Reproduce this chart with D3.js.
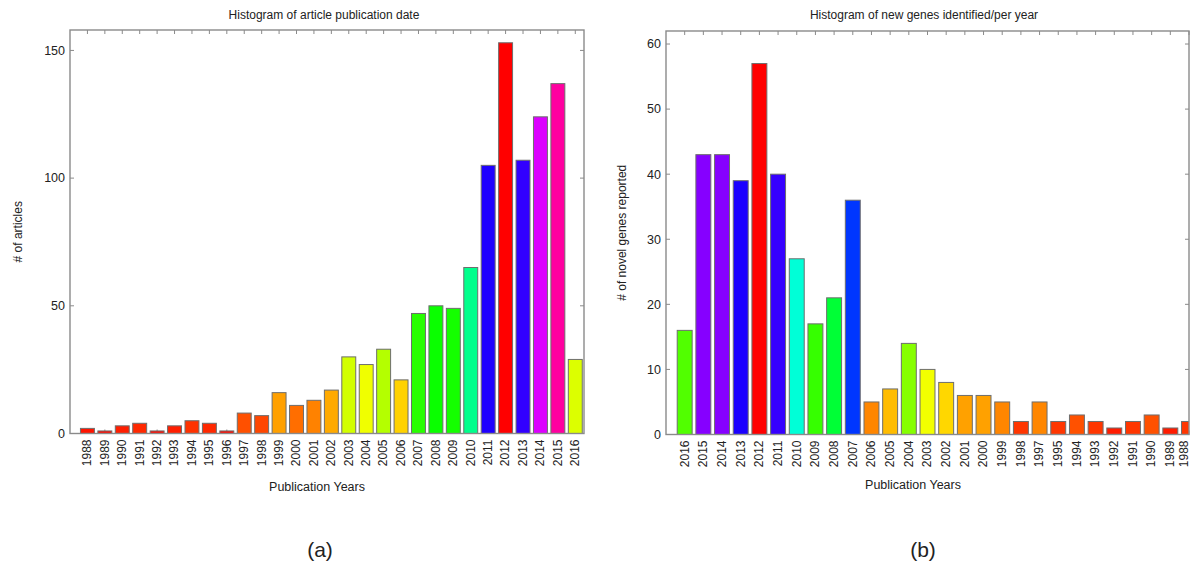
<!DOCTYPE html>
<html><head><meta charset="utf-8">
<script src="https://cdn.jsdelivr.net/npm/d3@7"></script>
<style>body{margin:0;background:#fff}svg{display:block;font-family:"Liberation Sans",Arial,sans-serif}</style>
</head><body>
<svg id="c" width="1193" height="567"></svg>
<script>
// Panel (a)
const yearsA = ["1988","1989","1990","1991","1992","1993","1994","1995","1996","1997","1998","1999","2000","2001","2002","2003","2004","2005","2006","2007","2008","2009","2010","2011","2012","2013","2014","2015","2016"];
const valuesA = [2,1,3,4,1,3,5,4,1,8,7,16,11,13,17,30,27,33,21,47,50,49,65,105,153,107,124,137,29];
const yTicksA = [0,50,100,150];
// Panel (b)
const yearsB = ["2016","2015","2014","2013","2012","2011","2010","2009","2008","2007","2006","2005","2004","2003","2002","2001","2000","1999","1998","1997","1995","1994","1993","1992","1991","1990","1989","1988"];
const valuesB = [16,43,43,39,57,40,27,17,21,36,5,7,14,10,8,6,6,5,2,5,2,3,2,1,2,3,1,2];
const yTicksB = [0,10,20,30,40,50,60];

const svg = d3.select("#c");
const frameCol = "#8a8a8a", textCol = "#222";

function panel(cfg){
  const g = svg.append("g");
  const x = d3.scaleLinear().domain([0, cfg.xMax]).range([cfg.x0, cfg.x1]);
  const y = d3.scaleLinear().domain([0, cfg.yMax]).range([cfg.y0, cfg.y1]);
  const maxV = d3.max(cfg.values);
  const color = v => d3.hsl(v / maxV * 360, 1, 0.5).toString();
  const idx = cfg.years.map((d,i)=>i+1);
  const clipId = "clip" + cfg.id;
  svg.append("clipPath").attr("id", clipId).append("rect")
    .attr("x", cfg.x0).attr("y", cfg.y1).attr("width", cfg.x1-cfg.x0).attr("height", cfg.y0-cfg.y1);
  const tl = 4;
  g.selectAll(".tb").data(idx).join("line")
    .attr("x1", d=>x(d)).attr("x2", d=>x(d)).attr("y1", cfg.y0).attr("y2", cfg.y0-tl)
    .attr("stroke", frameCol).attr("stroke-width", 1);
  g.selectAll(".tt").data(idx).join("line")
    .attr("x1", d=>x(d)).attr("x2", d=>x(d)).attr("y1", cfg.y1).attr("y2", cfg.y1+tl)
    .attr("stroke", frameCol).attr("stroke-width", 1);
  const bw = (x(1)-x(0))*0.8;
  g.append("g").attr("clip-path", `url(#${clipId})`).selectAll("rect").data(cfg.values).join("rect")
    .attr("x", (d,i)=>x(i+1)-bw/2).attr("width", bw)
    .attr("y", d=>y(d)).attr("height", d=>y(0)-y(d))
    .attr("fill", d=>color(d)).attr("stroke", "#6e6e6e").attr("stroke-width", 1);
  g.selectAll(".yl").data(cfg.yTicks).join("line")
    .attr("x1", cfg.x0).attr("x2", cfg.x0+tl).attr("y1", d=>y(d)).attr("y2", d=>y(d))
    .attr("stroke", frameCol).attr("stroke-width", 1);
  g.selectAll(".yr").data(cfg.yTicks).join("line")
    .attr("x1", cfg.x1).attr("x2", cfg.x1-tl).attr("y1", d=>y(d)).attr("y2", d=>y(d))
    .attr("stroke", frameCol).attr("stroke-width", 1);
  g.append("rect").attr("x", cfg.x0).attr("y", cfg.y1).attr("width", cfg.x1-cfg.x0).attr("height", cfg.y0-cfg.y1)
    .attr("fill", "none").attr("stroke", frameCol).attr("stroke-width", 1.4);
  g.selectAll(".ylab").data(cfg.yTicks).join("text")
    .attr("x", cfg.x0-5).attr("y", d=>y(d)).attr("dy", "0.35em").attr("text-anchor", "end")
    .attr("font-size", 12.5).attr("fill", textCol).text(d=>d);
  g.selectAll(".xlab").data(cfg.years).join("text")
    .attr("transform", (d,i)=>`translate(${Math.min(x(i+1), 1184)},${cfg.y0+6}) rotate(-90)`)
    .attr("text-anchor", "end").attr("dy", "0.32em")
    .attr("font-size", 12).attr("fill", textCol).text(d=>d);
  g.append("text").attr("x", cfg.titleX).attr("y", 19).attr("text-anchor", "middle")
    .attr("font-size", 12).attr("fill", textCol).text(cfg.title);
  g.append("text").attr("x", cfg.xlabX).attr("y", cfg.xlabY).attr("text-anchor", "middle")
    .attr("font-size", 12.5).attr("fill", textCol).text("Publication Years");
  g.append("text").attr("transform", `translate(${cfg.ylabX},${(cfg.y0+cfg.y1)/2}) rotate(-90)`)
    .attr("text-anchor", "middle").attr("dy", "0.35em")
    .attr("font-size", 12).attr("fill", textCol).text(cfg.ylab);
  g.append("text").attr("x", cfg.capX).attr("y", 557).attr("text-anchor", "middle")
    .attr("font-size", 21).attr("fill", textCol).text(cfg.cap);
}

panel({id:"a", years:yearsA, values:valuesA, yTicks:yTicksA, xMax:29.5, yMax:158,
  x0:70, x1:584, y0:433.5, y1:30, title:"Histogram of article publication date", titleX:324,
  xlabX:317, xlabY:491, ylabX:18, ylab:"# of articles", capX:320, cap:"(a)"});
panel({id:"b", years:yearsB, values:valuesB, yTicks:yTicksB, xMax:28, yMax:62,
  x0:666, x1:1189, y0:434.5, y1:31, title:"Histogram of new genes identified/per year", titleX:924,
  xlabX:913, xlabY:489, ylabX:622, ylab:"# of novel genes reported", capX:923, cap:"(b)"});
</script>
</body></html>
